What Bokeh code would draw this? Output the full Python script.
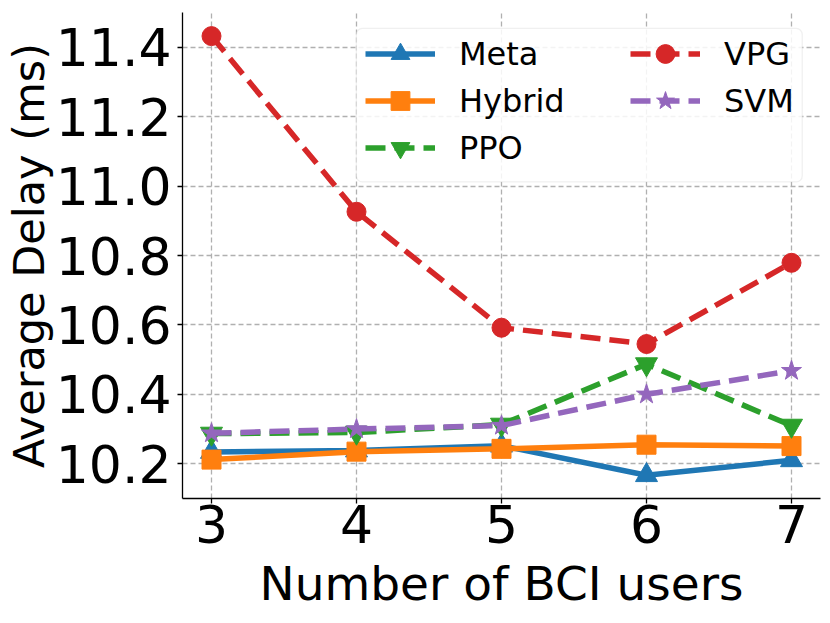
from bokeh.plotting import figure
from bokeh.models import (FixedTicker, NumeralTickFormatter, Legend, LegendItem,
                          BoxAnnotation, Range1d)
from bokeh.embed import file_html
from bokeh.resources import INLINE

# ---- data ----
users = [3, 4, 5, 6, 7]
meta = [10.234, 10.238, 10.252, 10.167, 10.210]
hybrid = [10.212, 10.235, 10.243, 10.255, 10.251]
ppo = [10.287, 10.290, 10.313, 10.487, 10.310]
vpg = [11.432, 10.926, 10.592, 10.545, 10.779]
svm = [10.288, 10.300, 10.310, 10.400, 10.468]
x_ticks = [3, 4, 5, 6, 7]
y_ticks = [10.2, 10.4, 10.6, 10.8, 11.0, 11.2, 11.4]

FONT = "DejaVu Sans"
C_BLUE, C_ORANGE, C_GREEN, C_RED, C_PURPLE = "#1f77b4", "#ff7f0e", "#2ca02c", "#d62728", "#9467bd"

p = figure(frame_width=638, frame_height=486, output_backend="svg", toolbar_location=None,
           x_range=Range1d(2.8, 7.2), y_range=Range1d(10.10, 11.50),
           min_border_left=182, min_border_top=12, min_border_right=2, min_border_bottom=112)
p.outline_line_color = None
p.background_fill_color = "white"
p.border_fill_color = "white"

for ax in (p.xaxis[0], p.yaxis[0]):
    ax.axis_line_color = "black"
    ax.axis_line_width = 1.3
    ax.major_tick_line_color = "black"
    ax.major_tick_line_width = 1.3
    ax.major_tick_out = 5
    ax.major_tick_in = 0
    ax.minor_tick_line_color = None
    ax.major_label_text_font = FONT
    ax.major_label_text_font_size = "52px"
    ax.major_label_text_color = "black"
    ax.axis_label_text_font = FONT
    ax.axis_label_text_font_style = "normal"
    ax.axis_label_text_color = "black"

p.xaxis.ticker = FixedTicker(ticks=x_ticks)
p.yaxis.ticker = FixedTicker(ticks=y_ticks)
p.yaxis.formatter = NumeralTickFormatter(format="0.0")
p.xaxis.major_label_standoff = 1
p.yaxis.major_label_standoff = 6

p.xaxis.axis_label = "Number of BCI users"
p.xaxis.axis_label_text_font_size = "47px"
p.xaxis.axis_label_standoff = 10

p.yaxis.axis_label = "Average Delay (ms)"
p.yaxis.axis_label_text_font_size = "43px"
p.yaxis.axis_label_standoff = -1

p.grid.grid_line_color = "#b0b0b0"
p.grid.grid_line_width = 1.3
p.grid.grid_line_dash = "5 3"

LW = 5.5
r = {}
r["Meta"] = [p.line(users, meta, color=C_BLUE, line_width=LW),
             p.scatter(users, meta, marker="triangle", size=22, color=C_BLUE)]
r["Hybrid"] = [p.line(users, hybrid, color=C_ORANGE, line_width=LW),
               p.scatter(users, hybrid, marker="square", size=19, color=C_ORANGE)]
r["PPO"] = [p.line(users, ppo, color=C_GREEN, line_width=LW, line_dash="20 9"),
            p.scatter(users, ppo, marker="inverted_triangle", size=22, color=C_GREEN)]
r["VPG"] = [p.line(users, vpg, color=C_RED, line_width=LW, line_dash="20 9"),
            p.scatter(users, vpg, marker="circle", size=19, color=C_RED)]
r["SVM"] = [p.line(users, svm, color=C_PURPLE, line_width=LW, line_dash="20 9"),
            p.scatter(users, svm, marker="star", size=21, color=C_PURPLE)]

# legend frame
box = BoxAnnotation(left=3.999, right=7.074, bottom=11.012, top=11.454,
                    fill_color="white", fill_alpha=0.85, line_color="#cccccc",
                    line_width=1.3, border_radius=6)
p.add_layout(box)

def make_legend(names, loc):
    lg = Legend(items=[LegendItem(label=n, renderers=r[n]) for n in names],
                location=loc, glyph_width=70, glyph_height=47, label_standoff=24,
                spacing=0, padding=0, margin=0, label_height=47,
                label_text_font=FONT, label_text_font_size="32px",
                label_text_color="black", label_text_baseline="middle",
                border_line_color=None, background_fill_alpha=0)
    p.add_layout(lg, "center")
    return lg

make_legend(["Meta", "Hybrid", "PPO"], (183, 327))
make_legend(["VPG", "SVM"], (448, 374))

open("out.html", "w").write(file_html(p, INLINE))
